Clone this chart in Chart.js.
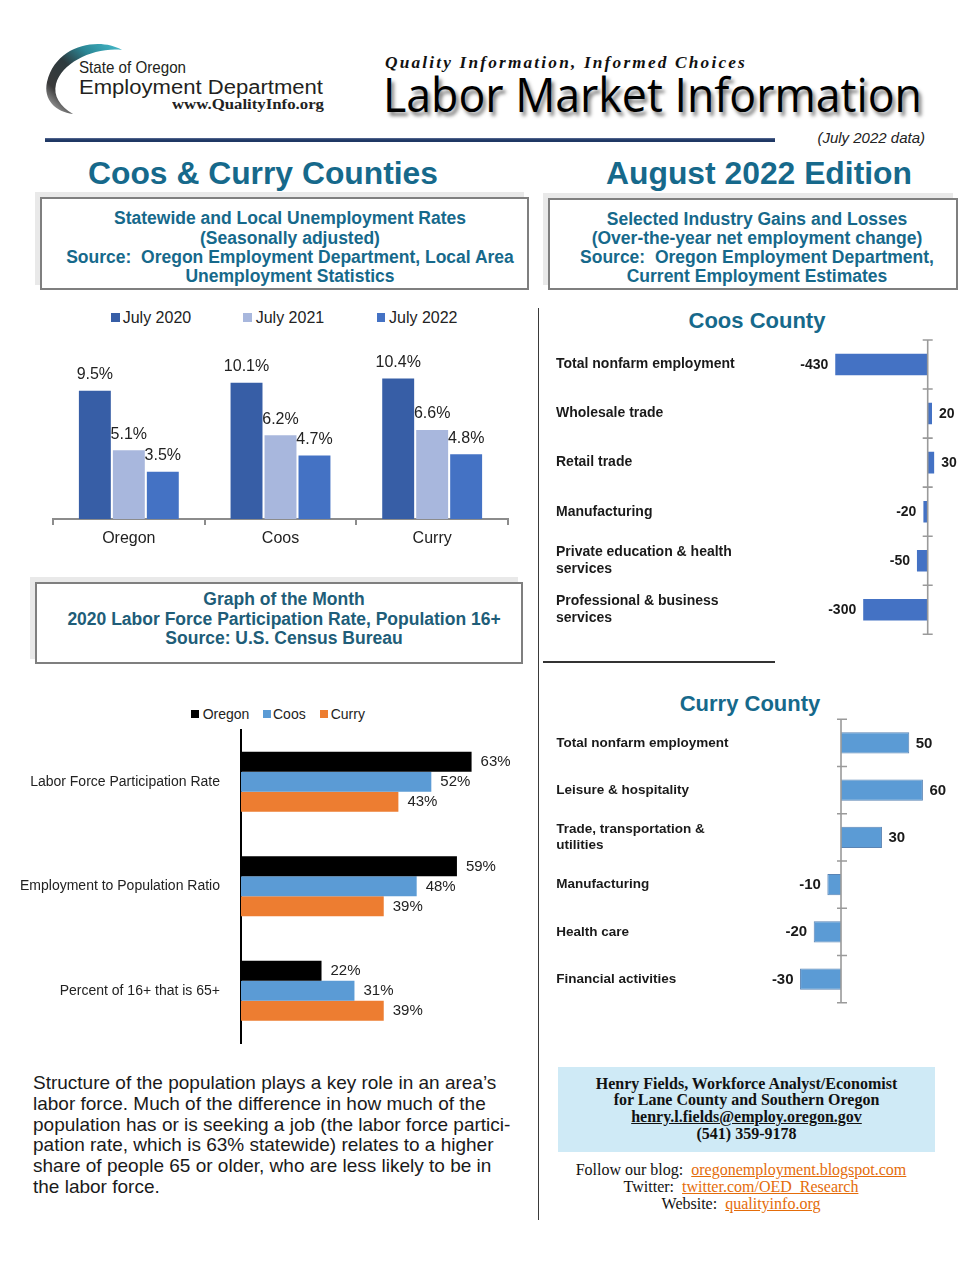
<!DOCTYPE html>
<html>
<head>
<meta charset="utf-8">
<script src="https://cdn.jsdelivr.net/npm/chart.js@4"></script>
<style>
  html, body { margin:0; padding:0; background:#fff; }
  #page { position:relative; width:980px; height:1268px; overflow:hidden; font-family:"Liberation Sans", Arial, sans-serif; }
  .abs { position:absolute; white-space:nowrap; }
  .fit { display:inline-block; transform-origin:left top; }
  .teal { color:#16698b; }
  .box { position:absolute; border:2px solid #7f7f7f; box-shadow:-5px -5px 0 #e9e9e9; background:#fff; }
  .boxtext { position:absolute; font-weight:bold; font-size:17.5px; line-height:19.3px; text-align:center; white-space:nowrap; }
  canvas { position:absolute; }
  .leg { position:absolute; white-space:nowrap; color:#222; }
  .leg i { position:absolute; display:block; }
  a { color:#e46c0a; text-decoration:underline; }
</style>
</head>
<body>
<div id="page">
  <!-- logo -->
  <svg class="abs" style="left:0;top:0" width="200" height="130" viewBox="0 0 200 130">
    <defs>
      <linearGradient id="arcg" x1="120" y1="46" x2="60" y2="112" gradientUnits="userSpaceOnUse">
        <stop offset="0" stop-color="#44b8c8"/>
        <stop offset="0.3" stop-color="#2b8796"/>
        <stop offset="0.55" stop-color="#2d3a3e"/>
        <stop offset="0.85" stop-color="#3a3a3a"/>
        <stop offset="1" stop-color="#8a8a8a"/>
      </linearGradient>
    </defs>
    <path d="M122,50 C100,37 56,44 47,82 C43,100 56,112 73,114 C60,106 53,96 56,84 C62,62 95,47 122,50 Z" fill="url(#arcg)"/>
  </svg>
  <div class="abs" style="left:79px;top:58.5px;font-size:17px;line-height:17px;color:#231f20"><span class="fit" data-w="107">State of Oregon</span></div>
  <div class="abs" style="left:79px;top:76.5px;font-size:20px;line-height:20px;color:#231f20"><span class="fit" data-w="244">Employment Department</span></div>
  <div class="abs" style="left:171.5px;top:97px;font-size:15px;line-height:15px;font-family:'Liberation Serif','Times New Roman',serif;font-weight:bold;color:#222"><span class="fit" data-w="152">www.QualityInfo.org</span></div>

  <div class="abs" style="left:385px;top:55px;font-size:16px;line-height:16px;font-family:'Liberation Serif','Times New Roman',serif;font-weight:bold;font-style:italic;letter-spacing:2px;color:#111"><span class="fit" data-w="362">Quality Information, Informed Choices</span></div>
  <div class="abs" style="left:383px;top:70px;font-size:48px;line-height:48px;font-family:'Open Sans','Noto Sans',sans-serif;font-weight:500;color:#000;text-shadow:3px 4px 4px rgba(0,0,0,0.5)"><span class="fit" data-w="539">Labor Market Information</span></div>

  <div class="abs" style="left:45px;top:138px;width:730px;height:4px;background:linear-gradient(#5d6f98,#1f3864 45%,#1f3864)"></div>
  <div class="abs" style="left:725px;width:200px;text-align:right;top:129.5px;font-size:15px;line-height:15px;font-style:italic;color:#222">(July 2022 data)</div>

  <div class="abs teal" style="left:88px;top:157px;font-size:32px;line-height:32px;font-weight:bold"><span class="fit" data-w="350">Coos &amp; Curry Counties</span></div>
  <div class="abs teal" style="left:606px;top:157px;font-size:32px;line-height:32px;font-weight:bold"><span class="fit" data-w="306">August 2022 Edition</span></div>

  <!-- title boxes -->
  <div class="box" style="left:40px;top:197px;width:485px;height:89px"></div>
  <div class="boxtext teal" style="left:40px;width:500px;top:209.4px">Statewide and Local Unemployment Rates<br>(Seasonally adjusted)<br>Source:&nbsp; Oregon Employment Department, Local Area<br>Unemployment Statistics</div>

  <div class="box" style="left:548px;top:198px;width:406px;height:88px"></div>
  <div class="boxtext teal" style="left:557px;width:400px;top:209.6px">Selected Industry Gains and Losses<br>(Over-the-year net employment change)<br>Source:&nbsp; Oregon Employment Department,<br>Current Employment Estimates</div>

  <div class="box" style="left:35px;top:582px;width:484px;height:78px"></div>
  <div class="boxtext" style="left:34px;width:500px;top:590.3px;color:#205d78">Graph of the Month<br>2020 Labor Force Participation Rate, Population 16+<br>Source: U.S. Census Bureau</div>

  <!-- dividers -->
  <div class="abs" style="left:537.5px;top:308px;width:1.6px;height:912px;background:#3a3a3a"></div>
  <div class="abs" style="left:543px;top:661px;width:232px;height:2px;background:#333"></div>

  <!-- county titles -->
  <div class="abs teal" style="left:556px;width:402px;text-align:center;top:310px;font-size:22px;line-height:22px;font-weight:bold">Coos County</div>
  <div class="abs teal" style="left:550px;width:400px;text-align:center;top:692.5px;font-size:22px;line-height:22px;font-weight:bold">Curry County</div>

  <!-- legends -->
  <div id="unempLegend"></div>
  <div id="lfprLegend"></div>

  <canvas id="unempChart" width="480" height="230" style="left:40px;top:325px"></canvas>
  <canvas id="coosChart" width="420" height="315" style="left:550px;top:330px"></canvas>
  <canvas id="curryChart" width="420" height="305" style="left:550px;top:710px"></canvas>
  <canvas id="lfprChart" width="520" height="330" style="left:10px;top:720px"></canvas>

  <!-- footer -->
  <div class="abs" style="left:33px;top:1072.9px;font-size:19px;line-height:20.85px;color:#1a1a1a">Structure of the population plays a key role in an area’s<br>labor force. Much of the difference in how much of the<br>population has or is seeking a job (the labor force partici-<br>pation rate, which is 63% statewide) relates to a higher<br>share of people 65 or older, who are less likely to be in<br>the labor force.</div>

  <div class="abs" style="left:558px;top:1067px;width:377px;height:85px;background:#cfeaf6"></div>
  <div class="abs" style="left:558px;width:377px;text-align:center;top:1075.5px;font-family:'Liberation Serif','Times New Roman',serif;font-weight:bold;font-size:16px;line-height:16.7px;color:#111">Henry Fields, Workforce Analyst/Economist<br>for Lane County and Southern Oregon<br><span style="text-decoration:underline">henry.l.fields@employ.oregon.gov</span><br>(541) 359-9178</div>

  <div class="abs" style="left:541px;width:400px;text-align:center;top:1161px;font-family:'Liberation Serif','Times New Roman',serif;font-size:16px;line-height:17px;color:#111">Follow our blog:&nbsp; <a>oregonemployment.blogspot.com</a><br>Twitter:&nbsp; <a>twitter.com/OED_Research</a><br>Website:&nbsp; <a>qualityinfo.org</a></div>
</div>

<script>
// ---------------- DATA ----------------
const unempCategories = ['Oregon', 'Coos', 'Curry'];
const unempSeries = ['July 2020', 'July 2021', 'July 2022'];
const unempJuly2020 = [9.5, 10.1, 10.4];
const unempJuly2021 = [5.1, 6.2, 6.6];
const unempJuly2022 = [3.5, 4.7, 4.8];

const coosIndustries = [
  ['Total nonfarm employment'],
  ['Wholesale trade'],
  ['Retail trade'],
  ['Manufacturing'],
  ['Private education & health', 'services'],
  ['Professional & business', 'services']
];
const coosChange = [-430, 20, 30, -20, -50, -300];

const curryIndustries = [
  ['Total nonfarm employment'],
  ['Leisure & hospitality'],
  ['Trade, transportation &', 'utilities'],
  ['Manufacturing'],
  ['Health care'],
  ['Financial activities']
];
const curryChange = [50, 60, 30, -10, -20, -30];

const lfprCategories = ['Labor Force Participation Rate', 'Employment to Population Ratio', 'Percent of 16+ that is 65+'];
const lfprSeries = ['Oregon', 'Coos', 'Curry'];
const lfprOregon = [63, 59, 22];
const lfprCoos = [52, 48, 31];
const lfprCurry = [43, 39, 39];

// ---------------- STYLE ----------------
const FONT = '"Liberation Sans", Arial, sans-serif';
Chart.defaults.font.family = FONT;
Chart.defaults.color = '#222';

const valueLabels = {
  id: 'valueLabels',
  afterDatasetsDraw(chart, args, opts) {
    const ctx = chart.ctx;
    ctx.save();
    ctx.font = opts.font;
    ctx.fillStyle = opts.color;
    const horiz = chart.options.indexAxis === 'y';
    chart.data.datasets.forEach((ds, di) => {
      const meta = chart.getDatasetMeta(di);
      meta.data.forEach((el, i) => {
        const v = ds.data[i];
        const txt = v.toFixed(opts.decimals) + opts.suffix;
        if (horiz) {
          const neg = v < 0;
          ctx.textAlign = neg ? 'right' : 'left';
          ctx.textBaseline = 'middle';
          ctx.fillText(txt, el.x + (neg ? -opts.offset : opts.offset), el.y + 0.5);
        } else {
          ctx.textAlign = 'center';
          ctx.textBaseline = 'middle';
          ctx.fillText(txt, el.x, el.y - opts.offset);
        }
      });
    });
    ctx.restore();
  }
};

const zeroAxis = {
  id: 'zeroAxis',
  afterDatasetsDraw(chart, args, opts) {
    const {ctx, chartArea, scales: {x, y}} = chart;
    const x0 = x.getPixelForValue(0);
    ctx.save();
    ctx.strokeStyle = opts.color;
    ctx.lineWidth = opts.width;
    ctx.beginPath();
    ctx.moveTo(x0, chartArea.top);
    ctx.lineTo(x0, chartArea.bottom);
    const n = chart.data.labels.length;
    for (let i = 0; i <= n; i++) {
      const py = y.getPixelForValue(i - 0.5);
      ctx.moveTo(x0 - opts.tickLeft, py);
      ctx.lineTo(x0 + opts.tickRight, py);
    }
    ctx.stroke();
    ctx.restore();
  }
};

function fixedWidth(w) {
  return function (s) {
    s.width = w;
    s.paddingTop = 0;
    s.paddingBottom = 0;
  };
}

function htmlLegend(containerId, datasets, items) {
  const c = document.getElementById(containerId);
  datasets.forEach((ds, i) => {
    const it = items[i];
    const d = document.createElement('div');
    d.className = 'leg';
    d.style.left = it.box + 'px';
    d.style.top = (it.cy - it.size * 0.6) + 'px';
    d.style.fontSize = it.size + 'px';
    d.style.lineHeight = (it.size * 1.2) + 'px';
    d.style.paddingLeft = (it.text - it.box) + 'px';
    const b = document.createElement('i');
    b.style.left = '0px';
    b.style.top = (it.size * 0.6 - it.bs / 2) + 'px';
    b.style.width = it.bs + 'px';
    b.style.height = it.bs + 'px';
    b.style.background = ds.backgroundColor;
    d.appendChild(b);
    d.appendChild(document.createTextNode(ds.label));
    c.appendChild(d);
  });
}

// ---------------- UNEMPLOYMENT ----------------
const unempColors = ['#375ea6', '#a8b7dd', '#4472c4'];
const unempData = [unempJuly2020, unempJuly2021, unempJuly2022];
const unempChart = new Chart(document.getElementById('unempChart'), {
  type: 'bar',
  data: {
    labels: unempCategories,
    datasets: unempSeries.map((s, i) => ({
      label: s, data: unempData[i], backgroundColor: unempColors[i],
      barPercentage: 0.94, categoryPercentage: 0.672
    }))
  },
  options: {
    responsive: false, animation: false,
    layout: { padding: { left: 13, right: 12, top: 5, bottom: 6 } },
    plugins: {
      legend: { display: false }, tooltip: { enabled: false },
      valueLabels: { font: '16px ' + FONT, color: '#222', offset: 16, decimals: 1, suffix: '%' }
    },
    scales: {
      x: {
        grid: { display: true, drawOnChartArea: false, drawTicks: true, tickLength: 6, color: '#8c8c8c', lineWidth: 2, offset: true },
        border: { display: true, color: '#8c8c8c', width: 2 },
        ticks: { font: { size: 16 }, color: '#222', padding: 4, autoSkip: false, maxRotation: 0 },
        afterFit(s) { s.height = 30; s.paddingLeft = 0; s.paddingRight = 0; }
      },
      y: { display: false, min: 0, max: 14 }
    }
  },
  plugins: [valueLabels]
});
htmlLegend('unempLegend', unempChart.data.datasets, [
  { box: 111, text: 122.7, cy: 317.7, size: 16, bs: 8.5 },
  { box: 243.3, text: 255.7, cy: 317.7, size: 16, bs: 8.5 },
  { box: 376.7, text: 389, cy: 317.7, size: 16, bs: 8.5 }
]);

// ---------------- COOS ----------------
new Chart(document.getElementById('coosChart'), {
  type: 'bar',
  data: {
    labels: coosIndustries,
    datasets: [{ label: 'Coos', data: coosChange, backgroundColor: '#4472c4', barPercentage: 0.44, categoryPercentage: 1 }]
  },
  options: {
    indexAxis: 'y', responsive: false, animation: false,
    layout: { padding: { left: 6, right: 3.6, top: 10, bottom: 10.7 } },
    plugins: {
      legend: { display: false }, tooltip: { enabled: false },
      valueLabels: { font: 'bold 14px ' + FONT, color: '#1a1a1a', offset: 7, decimals: 0, suffix: '' },
      zeroAxis: { color: '#9a9a9a', width: 1.6, tickLeft: 5, tickRight: 5 }
    },
    scales: {
      x: { display: false, min: -700, max: 180 },
      y: {
        grid: { display: false }, border: { display: false },
        ticks: { crossAlign: 'far', autoSkip: false, padding: 0, color: '#1a1a1a', font: { size: 14, weight: 'bold', lineHeight: 1.17 } },
        afterFit: fixedWidth(221.2)
      }
    }
  },
  plugins: [valueLabels, zeroAxis]
});

// ---------------- CURRY ----------------
new Chart(document.getElementById('curryChart'), {
  type: 'bar',
  data: {
    labels: curryIndustries,
    datasets: [{ label: 'Curry', data: curryChange, backgroundColor: '#5b9bd5', borderColor: '#5a84b4', borderWidth: 1, barPercentage: 0.45, categoryPercentage: 1 }]
  },
  options: {
    indexAxis: 'y', responsive: false, animation: false,
    layout: { padding: { left: 6.3, right: 3.4, top: 9.3, bottom: 12.3 } },
    plugins: {
      legend: { display: false }, tooltip: { enabled: false },
      valueLabels: { font: 'bold 15px ' + FONT, color: '#1a1a1a', offset: 6.5, decimals: 0, suffix: '' },
      zeroAxis: { color: '#9a9a9a', width: 1.6, tickLeft: 4, tickRight: 6 }
    },
    scales: {
      x: { display: false, min: -70, max: 92 },
      y: {
        grid: { display: false }, border: { display: false },
        ticks: { crossAlign: 'far', autoSkip: false, padding: 0, color: '#1a1a1a', font: { size: 13.5, weight: 'bold', lineHeight: 1.16 } },
        afterFit: fixedWidth(189.15)
      }
    }
  },
  plugins: [valueLabels, zeroAxis]
});

// ---------------- LABOR FORCE PARTICIPATION ----------------
const lfprColors = ['#000000', '#5b9bd5', '#ed7d31'];
const lfprData = [lfprOregon, lfprCoos, lfprCurry];
const lfprChart = new Chart(document.getElementById('lfprChart'), {
  type: 'bar',
  data: {
    labels: lfprCategories,
    datasets: lfprSeries.map((s, i) => ({
      label: s, data: lfprData[i], backgroundColor: lfprColors[i],
      barPercentage: 1, categoryPercentage: 0.574
    }))
  },
  options: {
    indexAxis: 'y', responsive: false, animation: false,
    layout: { padding: { left: 0, right: 32.8, top: 9.5, bottom: 7 } },
    plugins: {
      legend: { display: false }, tooltip: { enabled: false },
      valueLabels: { font: '15px ' + FONT, color: '#222', offset: 9, decimals: 0, suffix: '%' }
    },
    scales: {
      x: { display: false, min: 0, max: 70 },
      y: {
        grid: { display: false },
        border: { display: true, color: '#000', width: 2 },
        ticks: { autoSkip: false, padding: 13, color: '#222', font: { size: 14 } },
        afterFit: fixedWidth(231)
      }
    }
  },
  plugins: [valueLabels]
});
htmlLegend('lfprLegend', lfprChart.data.datasets, [
  { box: 191, text: 202.7, cy: 714, size: 14, bs: 8 },
  { box: 263.3, text: 273, cy: 714, size: 14, bs: 8 },
  { box: 320, text: 330.7, cy: 714, size: 14, bs: 8 }
]);

// ---------------- fit header text widths ----------------
function fitAll() {
  document.querySelectorAll('.fit').forEach(el => {
    el.style.transform = 'none';
    const w = el.getBoundingClientRect().width;
    const target = parseFloat(el.dataset.w);
    if (w > 0) el.style.transform = 'scaleX(' + (target / w) + ')';
  });
}
fitAll();
if (document.fonts && document.fonts.ready) document.fonts.ready.then(fitAll);
</script>
</body>
</html>
